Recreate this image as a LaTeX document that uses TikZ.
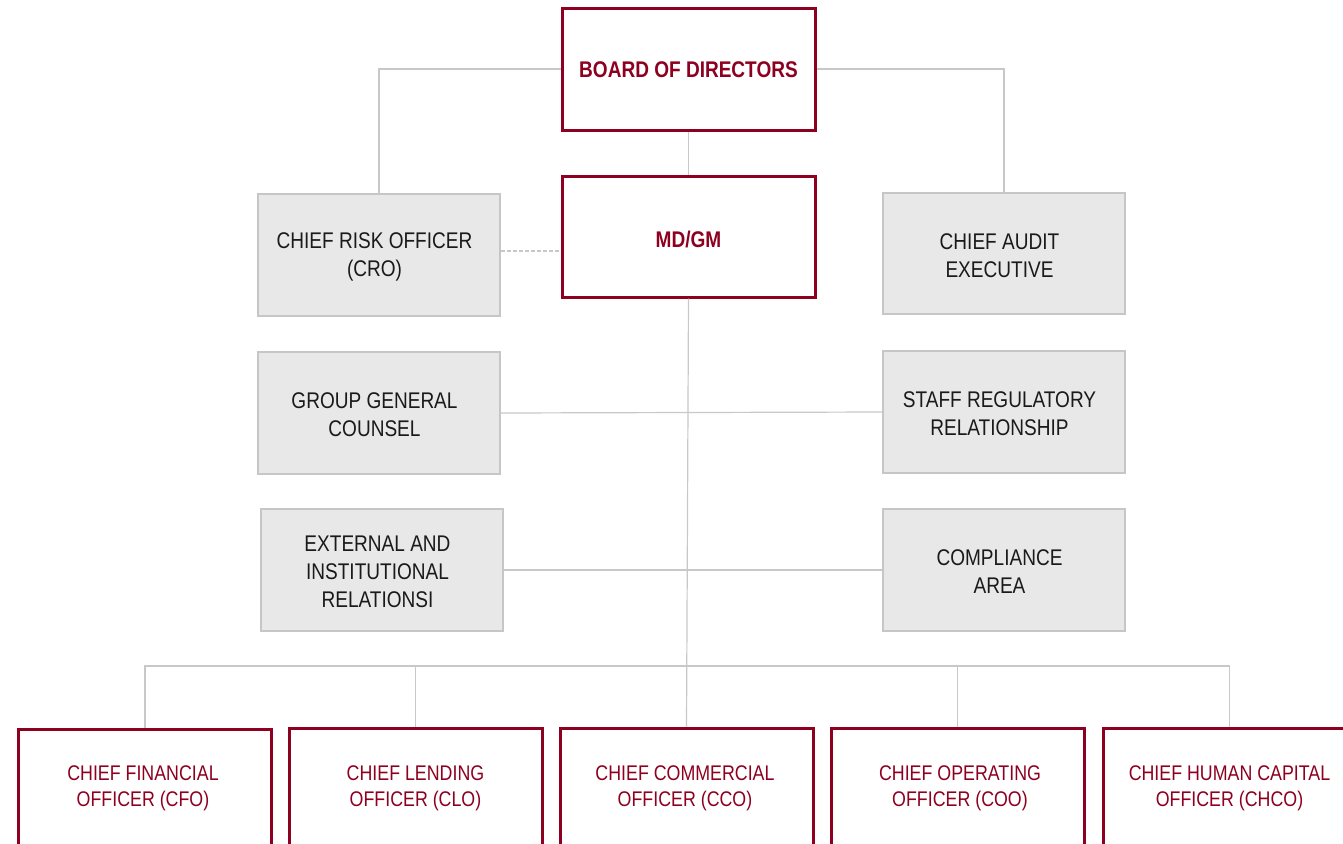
\documentclass[tikz,border=0pt]{standalone}
\usepackage{fontspec}
\setmainfont{Liberation Sans}[FakeStretch=0.84]
\definecolor{brand}{RGB}{142,0,32}
\definecolor{boxfill}{HTML}{E8E8E8}
\definecolor{boxline}{HTML}{C6C6C6}
\definecolor{conn}{HTML}{C8C8C8}
\definecolor{txt}{HTML}{1A1A1A}
\begin{document}
\begin{tikzpicture}[x=0.75pt,y=-0.75pt,
  redbox/.style={draw=brand,line width=2.25pt,fill=white,minimum width=253*0.75pt,minimum height=122*0.75pt,inner sep=0pt},
  greybox/.style={draw=boxline,line width=1.6pt,fill=boxfill,minimum width=242*0.75pt,minimum height=122*0.75pt,inner sep=0pt},
  greytxt/.style={align=center,text=txt,font=\fontsize{17}{21}\selectfont,xshift=-4.5*0.75pt,yshift=-2*0.75pt},
  boldtxt/.style={text=brand,font=\fontsize{17}{21}\selectfont\bfseries},
  redtxt/.style={text=brand,align=center,font=\fontsize{15.9}{19.5}\selectfont},
  link/.style={draw=conn,line width=0.9pt}]
\useasboundingbox (0,0) rectangle (1343,843);
\node[redbox] (board) at (688.5,69) {};
\node[redbox,minimum height=121*0.75pt] (md) at (688.5,236.5) {};
\node[greybox] (cro) at (379,255) {};
\node[greybox,minimum height=121*0.75pt] (audit) at (1004,253.5) {};
\node[greybox] (ggc) at (379,413) {};
\node[greybox] (srr) at (1004,412) {};
\node[greybox] (ext) at (382,570) {};
\node[greybox] (comp) at (1004,570) {};
\node[redbox] (cfo) at (145,790) {};
\node[redbox] (clo) at (415.5,789) {};
\node[redbox] (cco) at (686.5,789) {};
\node[redbox] (coo) at (957.5,789) {};
\node[redbox] (chco) at (1229.5,789) {};
\coordinate (bus) at (687,666);
% connectors
\draw[link] (board.west) -| (cro.north);
\draw[link] (board.east) -| (audit.north);
\draw[link] (board.south) -- (md.north);
\draw[link,dash pattern=on 3pt off 1.5pt] ([yshift=3pt]cro.east) -- ([yshift=3pt]cro.east -| md.west);
\draw[link] (md.south) -- (cco.north);
\draw[link] (ggc.east) -- (srr.west);
\draw[link] (ext.east) -- (comp.west);
\draw[link] (cfo.north) |- (bus) -| (chco.north);
\draw[link] (clo.north) -- (clo.north |- bus);
\draw[link] (coo.north) -- (coo.north |- bus);
% texts
\node[greytxt] (tcro) at (cro.center) {CHIEF RISK OFFICER\\(CRO)};
\node[greytxt] (taudit) at (audit.center) {CHIEF AUDIT\\EXECUTIVE};
\node[greytxt] (tggc) at (ggc.center) {GROUP GENERAL\\COUNSEL};
\node[greytxt] (tsrr) at (srr.center) {STAFF REGULATORY\\RELATIONSHIP};
\node[greytxt] (text) at (ext.center) {EXTERNAL AND\\INSTITUTIONAL\\RELATIONSI};
\node[greytxt] (tcomp) at (comp.center) {COMPLIANCE\\AREA};
\node[boldtxt] (tboard) at ([yshift=-1*0.75pt]board.center) {BOARD OF DIRECTORS};
\node[boldtxt] (tmd) at ([yshift=-3*0.75pt]md.center) {MD/GM};
\node[redtxt] (tcfo) at (143,788) {CHIEF FINANCIAL\\OFFICER (CFO)};
\node[redtxt] (tclo) at (415.5,788) {CHIEF LENDING\\OFFICER (CLO)};
\node[redtxt] (tcco) at (685,788) {CHIEF COMMERCIAL\\OFFICER (CCO)};
\node[redtxt] (tcoo) at (960,788) {CHIEF OPERATING\\OFFICER (COO)};
\node[redtxt] (tchco) at (1229.5,788) {CHIEF HUMAN CAPITAL\\OFFICER (CHCO)};
\end{tikzpicture}
\end{document}
